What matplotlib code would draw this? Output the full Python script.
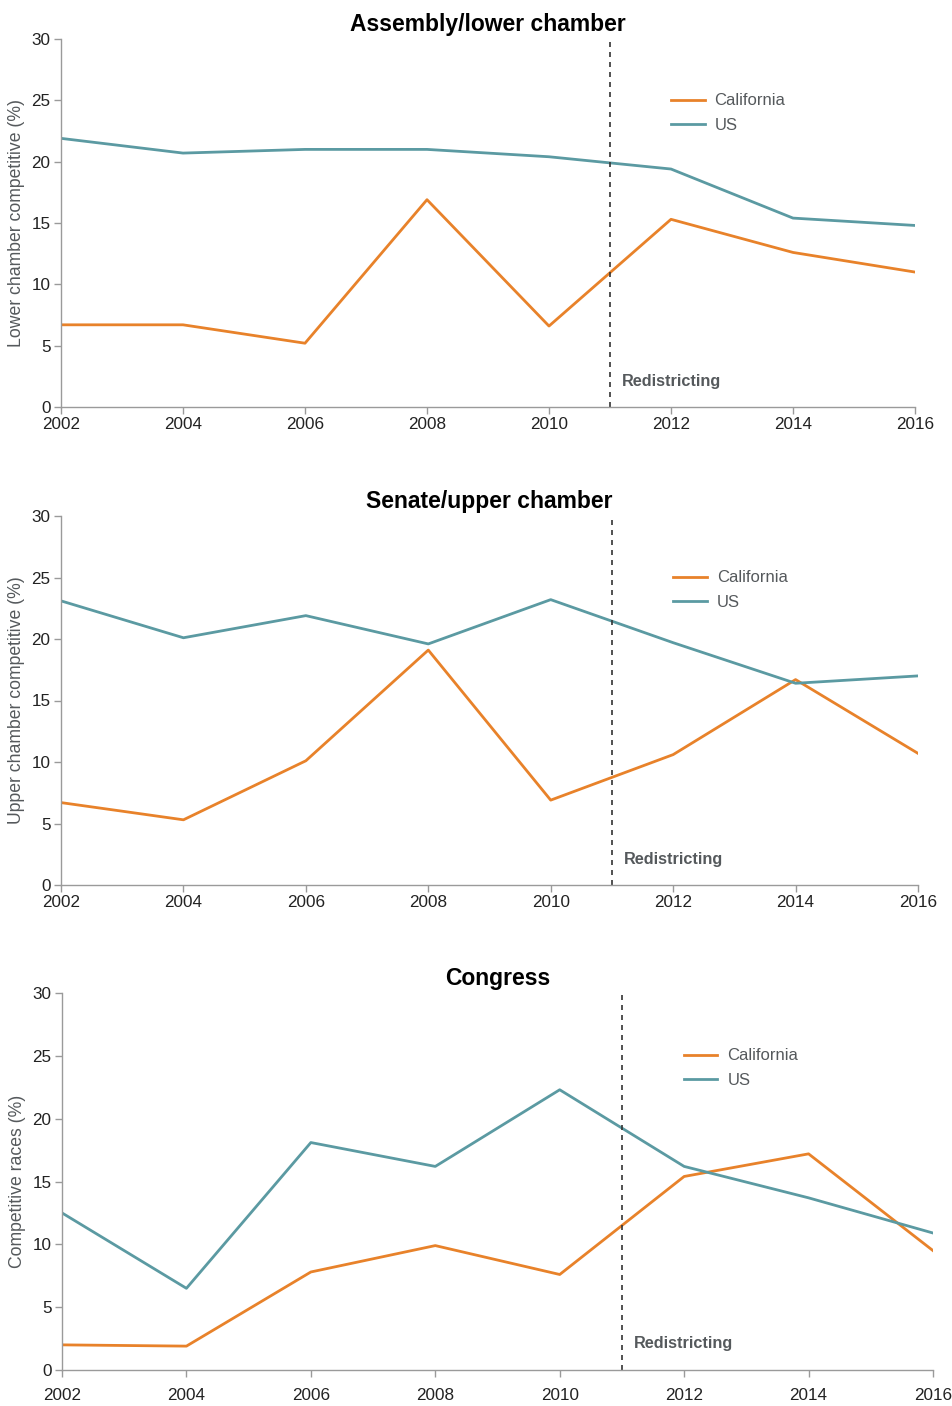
import matplotlib
matplotlib.use("Agg")
import matplotlib.pyplot as plt

plt.rcParams['font.family'] = ['Liberation Sans', 'DejaVu Sans']

years = [2002, 2004, 2006, 2008, 2010, 2012, 2014, 2016]

# Assembly / lower chamber
lower_ca = [6.7, 6.7, 5.2, 16.9, 6.6, 15.3, 12.6, 11.0]
lower_us = [21.9, 20.7, 21.0, 21.0, 20.4, 19.4, 15.4, 14.8]

# Senate / upper chamber
upper_ca = [6.7, 5.3, 10.1, 19.1, 6.9, 10.6, 16.7, 10.7]
upper_us = [23.1, 20.1, 21.9, 19.6, 23.2, 19.7, 16.4, 17.0]

# Congress
congress_ca = [2.0, 1.9, 7.8, 9.9, 7.6, 15.4, 17.2, 9.5]
congress_us = [12.5, 6.5, 18.1, 16.2, 22.3, 16.2, 13.7, 10.9]

titles = ["Assembly/lower chamber", "Senate/upper chamber", "Congress"]
ylabels = ["Lower chamber competitive (%)", "Upper chamber competitive (%)", "Competitive races (%)"]
series = [(lower_ca, lower_us), (upper_ca, upper_us), (congress_ca, congress_us)]
redistricting_year = 2011

ORANGE = "#E8822A"
TEAL = "#5B9AA2"
GRAY_TXT = "#55595c"

W, H = 953, 1406
fig = plt.figure(figsize=(W / 100, H / 100), dpi=100)

# axes boxes in pixels: left, right, top, bottom
boxes = [(61, 915, 39, 407), (61, 918, 516, 885), (62, 933, 993, 1370)]
xpads = [2.5, 2.5, 8]

for (ca, us), title, ylab, (l, r, t, b), xpad in zip(series, titles, ylabels, boxes, xpads):
    ax = fig.add_axes([l / W, 1 - b / H, (r - l) / W, (b - t) / H])
    ax.plot(years, ca, color=ORANGE, lw=2.0, label="California")
    ax.plot(years, us, color=TEAL, lw=2.0, label="US")
    ax.axvline(redistricting_year, color="#333333", lw=1.2, ls=(0, (3, 3)))
    ax.text(redistricting_year + 0.2, 2.1, "Redistricting", color=GRAY_TXT,
            fontsize=11.7, fontweight="bold", va="center", ha="left")

    ax.set_xlim(2002, 2016)
    ax.set_ylim(0, 30)
    ax.set_xticks(years)
    ax.set_yticks(range(0, 31, 5))
    for s in ["top", "right"]:
        ax.spines[s].set_visible(False)
    for s in ["left", "bottom"]:
        ax.spines[s].set_color("#9a9a9a")
        ax.spines[s].set_linewidth(1.0)
    ax.tick_params(colors="#9a9a9a", labelcolor="#222222", labelsize=12.3,
                   length=5, width=1.0, pad=2.5)
    ax.tick_params(axis="x", pad=xpad)
    ax.set_ylabel(ylab, color=GRAY_TXT, fontsize=12.7, labelpad=5)
    ax.set_title(title, fontsize=16.5, fontweight="bold", pad=6)

    leg = ax.legend(loc="upper left", bbox_to_anchor=(0.697, 0.893), frameon=False,
                    fontsize=12, handlelength=2.0, handletextpad=0.6, labelspacing=0.55)
    for txt in leg.get_texts():
        txt.set_color(GRAY_TXT)

fig.savefig("out.png", dpi=100, facecolor="white")
